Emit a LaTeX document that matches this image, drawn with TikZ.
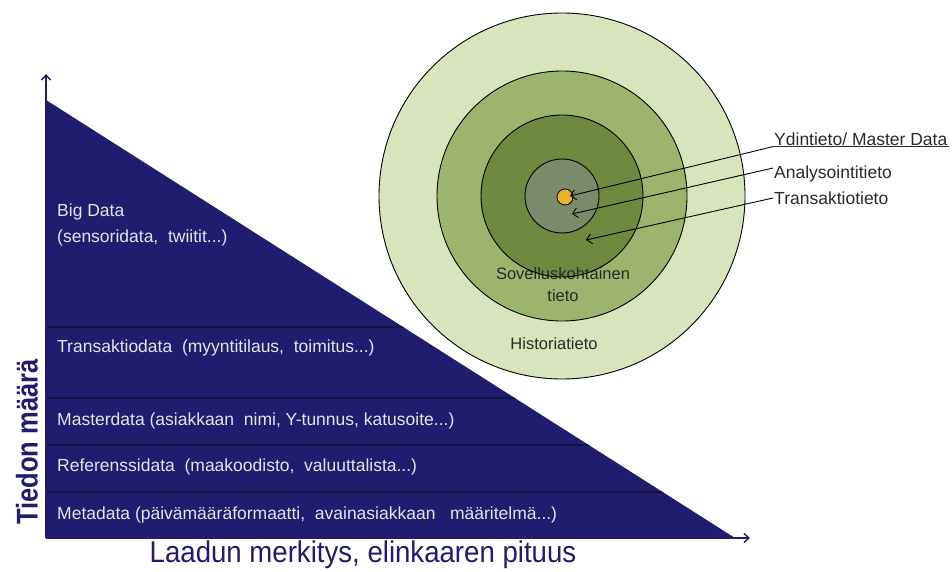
\documentclass[tikz,border=0pt]{standalone}
\usepackage{fontspec}
\usepackage{graphicx}
\setmainfont{Liberation Sans}
\usetikzlibrary{arrows.meta}

\definecolor{navy}{HTML}{201C6F}
\definecolor{bandline}{HTML}{15123F}
\definecolor{bandtext}{HTML}{E4E4EC}
\definecolor{ringA}{HTML}{D8E4BC}
\definecolor{ringB}{HTML}{9DB46C}
\definecolor{ringC}{HTML}{6F8A3F}
\definecolor{ringD}{HTML}{7A8A6A}
\definecolor{coregold}{HTML}{E6B428}
\definecolor{labelgray}{HTML}{2A2A2A}

\tikzset{
  bandlabel/.style={anchor=west, text=bandtext, inner sep=0pt,
    font=\fontsize{17.5}{24}\selectfont},
  ringlabel/.style={text=labelgray, inner sep=0pt, align=center,
    font=\fontsize{16.5}{22}\selectfont},
  sidelabel/.style={anchor=west, text=labelgray, inner sep=1pt,
    font=\fontsize{17.5}{19}\selectfont},
  ring/.style={draw=black, line width=0.9pt},
  pointer/.style={draw=black, line width=0.9pt,
    -{Straight Barb[length=5pt,width=10pt]}},
  axis/.style={draw=navy, line width=1.4pt,
    -{Straight Barb[length=5pt,width=9pt]}}
}

\begin{document}
\begin{tikzpicture}[x=1pt,y=-1pt]
\useasboundingbox (0,0) rectangle (952,572);
\fill[white] (0,0) rectangle (952,572);

% ---- data pyramid (triangle) ----
\coordinate (top) at (46,100);
\coordinate (origin) at (46,538);
\coordinate (corner) at (735,538);
\fill[navy] (top) -- (origin) -- (corner) -- cycle;
\begin{scope}
  \clip (top) -- (origin) -- (corner) -- cycle;
  \foreach \yy in {327,398,445,492}
    \draw[bandline, line width=2pt] (40,\yy) -- (760,\yy);
\end{scope}

% axes
\coordinate (ytip) at (46,74);
\coordinate (xtip) at (750,538);
\draw[axis] (origin) -- (ytip);
\draw[axis] (origin) -- (xtip);

% band labels
\node[bandlabel] (big1) at (57,212) {Big Data};
\node[bandlabel] (big2) at (57,238) {(sensoridata,\ \ twiitit...)};
\node[bandlabel] (trans) at (57,348) {Transaktiodata\ \ (myyntitilaus,\ \ toimitus...)};
\node[bandlabel] (master) at (57,421) {Masterdata (asiakkaan\ \ nimi, Y-tunnus, katusoite...)};
\node[bandlabel] (ref) at (57,467) {Referenssidata\ \ (maakoodisto,\ \ valuuttalista...)};
\node[bandlabel] (meta) at (57,515) {Metadata (päivämääräformaatti,\ \ avainasiakkaan\ \ \ määritelmä...)};

% axis titles
\node[rotate=90, text=navy, inner sep=0pt] (ytitle) at (27,442)
  {\fontsize{30}{31}\selectfont\bfseries\scalebox{0.85}[1]{Tiedon määrä}};
\node[text=navy, inner sep=0pt] (xtitle) at (363,555)
  {\fontsize{30}{32}\selectfont\scalebox{0.92}[1]{Laadun merkitys, elinkaaren pituus}};

% ---- concentric information rings ----
\coordinate (c) at (562,196);
\fill[ringA] (c) circle[radius=183pt];
\fill[ringB] (c) circle[radius=125pt];
\fill[ringC] (c) circle[radius=81pt];
\fill[ringD] (c) circle[radius=37pt];

\node[ringlabel] (sov) at (563,285) {Sovelluskohtainen\\tieto};
\node[ringlabel] (hist) at (554,344) {Historiatieto};

\draw[ring] (c) circle[radius=183pt];
\draw[ring] (c) circle[radius=125pt];
\draw[ring] (c) circle[radius=81pt];
\draw[ring] (c) circle[radius=37pt];
\node[circle, draw=black, line width=0.8pt, fill=coregold,
      minimum size=16pt, inner sep=0pt] (core) at (565,197) {};

% side labels and pointers
\node[sidelabel] (ydin) at (773,139) {Ydintieto/ Master Data};
\draw[labelgray, line width=1pt] (ydin.south west) -- (ydin.south east);
\node[sidelabel] (anal) at (773,174) {Analysointitieto};
\node[sidelabel] (trtieto) at (773,198) {Transaktiotieto};

\coordinate (tipA) at (570,196);
\coordinate (tipB) at (572,214);
\coordinate (tipC) at (586,240);
\draw[pointer] (ydin.south west) -- (tipA);
\draw[pointer] ([yshift=6pt]anal.west) -- (tipB);
\draw[pointer] (trtieto.west) -- (tipC);
\end{tikzpicture}
\end{document}
